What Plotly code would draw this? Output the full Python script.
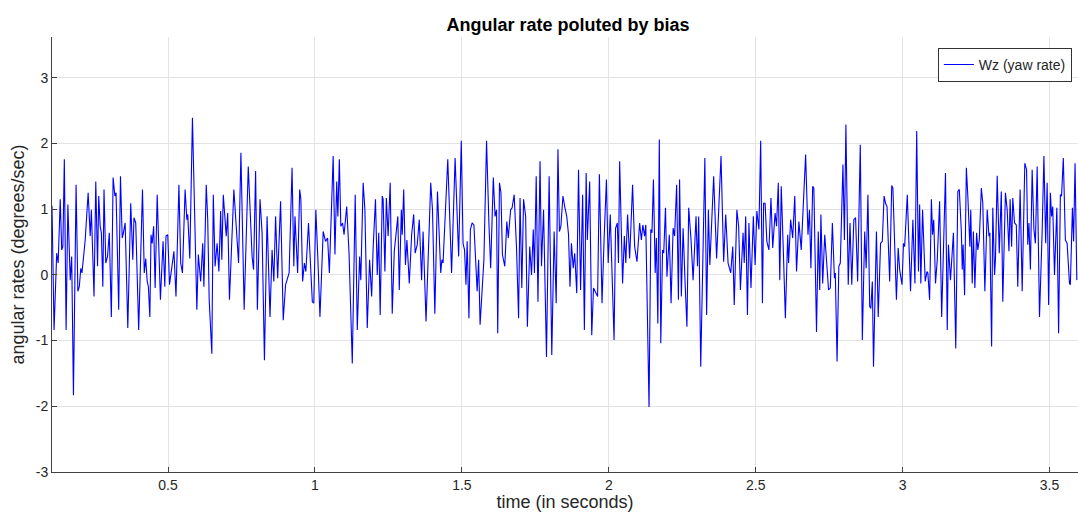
import plotly.graph_objects as go

title_text = "Angular rate poluted by bias"
x_label = "time (in seconds)"
y_label = "angular rates (degrees/sec)"
series_name = "Wz (yaw rate)"

time_s = [
    0.105, 0.112, 0.121, 0.126, 0.133, 0.138, 0.142, 0.147, 0.153, 0.159, 0.167, 0.172, 0.178, 0.187, 0.193, 0.198,
    0.203, 0.207, 0.218, 0.228, 0.235, 0.239, 0.248, 0.254, 0.260, 0.264, 0.269, 0.273, 0.278, 0.282, 0.288, 0.294,
    0.300, 0.307, 0.313, 0.319, 0.323, 0.332, 0.338, 0.344, 0.348, 0.354, 0.363, 0.373, 0.380, 0.384, 0.390, 0.400,
    0.413, 0.419, 0.424, 0.429, 0.433, 0.438, 0.442, 0.446, 0.451, 0.456, 0.463, 0.467, 0.474, 0.483, 0.489, 0.493,
    0.499, 0.505, 0.512, 0.520, 0.527, 0.537, 0.543, 0.549, 0.558, 0.564, 0.567, 0.574, 0.583, 0.598, 0.603, 0.611,
    0.618, 0.622, 0.630, 0.635, 0.640, 0.649, 0.654, 0.660, 0.667, 0.673, 0.679, 0.683, 0.688, 0.698, 0.703, 0.709,
    0.714, 0.724,
    0.740, 0.748, 0.759, 0.773, 0.786, 0.791, 0.798, 0.804, 0.813, 0.820, 0.828, 0.837, 0.847, 0.854, 0.860, 0.866,
    0.873, 0.883, 0.892, 0.900, 0.912, 0.922, 0.928, 0.932, 0.941, 0.948, 0.952, 0.958, 0.964, 0.969, 0.978, 0.983,
    0.991, 0.996, 1.003, 1.010, 1.017, 1.028, 1.036, 1.043, 1.049,
    1.062, 1.068, 1.074, 1.078, 1.083, 1.088, 1.094, 1.099, 1.108, 1.116, 1.127, 1.137, 1.144, 1.152, 1.156, 1.164,
    1.170, 1.178, 1.186, 1.193, 1.198, 1.206, 1.212, 1.217, 1.222, 1.229, 1.232, 1.238, 1.243, 1.249, 1.256, 1.263,
    1.270, 1.277, 1.282, 1.287, 1.294, 1.297, 1.302, 1.308, 1.313, 1.321, 1.329, 1.336, 1.341, 1.348, 1.355, 1.363,
    1.368,
    1.378, 1.385, 1.394, 1.400, 1.408, 1.417, 1.428, 1.432, 1.436, 1.452, 1.465, 1.477, 1.489, 1.498, 1.504, 1.509,
    1.514, 1.518, 1.524, 1.529, 1.535, 1.541, 1.548, 1.552, 1.557, 1.562, 1.575, 1.584, 1.592, 1.598, 1.607, 1.613,
    1.618, 1.622, 1.628, 1.633, 1.638, 1.646, 1.653, 1.658, 1.666, 1.671, 1.678, 1.686, 1.693,
    1.698, 1.704, 1.710, 1.717, 1.723, 1.731, 1.737, 1.743, 1.747, 1.753, 1.759, 1.766, 1.771, 1.778, 1.788, 1.797,
    1.806, 1.814, 1.821, 1.827, 1.832, 1.837, 1.844, 1.850, 1.857, 1.863, 1.868, 1.873, 1.879, 1.884, 1.891, 1.897,
    1.904, 1.911, 1.917, 1.923, 1.927, 1.935, 1.942, 1.948, 1.955, 1.962, 1.968, 1.977, 1.984, 1.992, 1.998, 2.005,
    2.018,
    2.023, 2.029, 2.033, 2.037, 2.047, 2.053, 2.058, 2.064, 2.071, 2.081, 2.088, 2.096, 2.105, 2.111, 2.116, 2.122,
    2.126, 2.137, 2.143, 2.147, 2.152, 2.158, 2.162, 2.167, 2.172, 2.177, 2.183, 2.187, 2.193, 2.198, 2.206, 2.212,
    2.219, 2.224, 2.231, 2.237, 2.241, 2.247, 2.253, 2.260, 2.266, 2.272, 2.280, 2.287, 2.297, 2.302, 2.306, 2.313,
    2.327, 2.333, 2.339,
    2.344, 2.357, 2.367, 2.382, 2.391, 2.398, 2.406, 2.415, 2.422, 2.427, 2.436, 2.442, 2.448, 2.457, 2.461, 2.466,
    2.472, 2.477, 2.484, 2.492, 2.498, 2.504, 2.511, 2.517, 2.523, 2.527, 2.532, 2.538, 2.545, 2.552, 2.558, 2.566,
    2.571, 2.577, 2.582, 2.587, 2.594, 2.601, 2.609, 2.612, 2.619, 2.626, 2.633, 2.639, 2.647, 2.655,
    2.670, 2.678, 2.683, 2.688, 2.694, 2.698, 2.707, 2.713, 2.718, 2.722, 2.728, 2.735, 2.741, 2.748, 2.754, 2.761,
    2.768, 2.771, 2.777, 2.783, 2.788, 2.797, 2.802, 2.807, 2.815, 2.821, 2.827, 2.834, 2.840, 2.847, 2.856, 2.863,
    2.871, 2.876, 2.882, 2.888, 2.892, 2.897, 2.901, 2.911, 2.917, 2.925, 2.931, 2.937, 2.942, 2.947, 2.956, 2.963,
    2.967, 2.979, 2.985,
    2.990, 2.998, 3.003, 3.007, 3.016, 3.027, 3.035, 3.042, 3.048, 3.054, 3.058, 3.062, 3.068, 3.077, 3.083, 3.086,
    3.092, 3.098, 3.102, 3.106, 3.112, 3.118, 3.126, 3.133, 3.140, 3.146, 3.152, 3.156, 3.163, 3.173, 3.181, 3.188,
    3.193, 3.200, 3.203, 3.206, 3.211, 3.217, 3.222, 3.229, 3.232, 3.237, 3.241, 3.246, 3.252, 3.256, 3.261, 3.268,
    3.273, 3.280, 3.288, 3.294, 3.297, 3.303,
    3.307, 3.313, 3.316, 3.322, 3.329, 3.336, 3.341, 3.350, 3.356, 3.362, 3.366, 3.371, 3.375, 3.381, 3.387, 3.392,
    3.400, 3.407, 3.416, 3.422, 3.426, 3.430, 3.435, 3.441, 3.447, 3.452, 3.458, 3.466, 3.475, 3.481, 3.487, 3.492,
    3.497, 3.503, 3.507, 3.511, 3.517, 3.525, 3.531, 3.537, 3.541, 3.547, 3.554, 3.560, 3.568, 3.571, 3.578, 3.582,
    3.587, 3.593,
]

wz_rate = [
    1.05, -0.84, 0.33, 0.18, 1.15, 0.38, 0.43, 1.76, -0.84, 1.07, -0.08, 0.28, -1.83, 1.37, -0.25, -0.18,
    0.10, 0.03, 0.53, 1.25, 0.59, 0.99, -0.33, 1.42, 0.13, 1.20, 0.74, 0.64, -0.18, 1.30, 0.18, 0.28,
    0.64, -0.64, 1.48, 1.20, 1.25, -0.53, 1.50, 0.56, 0.64, 0.79, -0.81, 1.09, 0.23, 0.87, 0.79, -0.84,
    1.30, 0.03, 0.25, -0.10, -0.18, -0.64, 0.61, 0.48, 0.74, -0.20, 1.22, 0.64, -0.38, 0.51, -0.18, 0.59,
    0.61, -0.15, 0.08, 0.36, -0.33, 1.37, 0.18, 0.03, 1.30, 0.84, 0.92, 0.25, 2.39, -0.53, 0.31, -0.10,
    0.48, -0.18, 1.37, 0.84, -0.38, -1.20, 1.22, 0.13, 0.48, 0.05, 0.97, 0.23, 1.22, 0.59, 0.94, -0.38,
    0.18, 1.30,
    0.18, 1.86, -0.53, 1.65, 0.28, 0.08, 1.58, -0.53, 1.15, 0.64, -1.30, 0.89, -0.64, 0.38, -0.10, 0.89,
    -0.05, 1.12, -0.69, -0.15, 0.03, 1.63, 0.13, 0.89, 0.03, 1.30, 1.15, -0.10, 0.18, 0.05, 0.79, 0.23,
    -0.41, -0.43, 0.99, 0.23, -0.64, 0.66, 0.51, 0.56, 0.03,
    1.81, 0.31, 1.42, 0.89, 1.76, 0.74, 0.79, 0.61, 1.04, 0.33, -1.35, 1.22, -0.84, 0.28, -0.08, 1.40,
    0.99, -0.81, 0.23, -0.33, 0.41, 1.15, 0.00, 0.64, -0.61, 1.20, 1.15, 0.05, 1.17, 0.59, 1.40, -0.59,
    0.36, 0.74, 0.89, -0.23, 0.99, 0.61, 1.30, 0.15, 0.53, -0.13, 0.61, 0.92, 0.33, 0.46, 0.84, -0.08,
    0.66,
    -0.71, 0.23, 1.40, 0.99, -0.59, 1.27, 0.03, 0.23, 0.18, 1.76, 0.03, 1.78, 0.28, 2.04, 0.48, 0.38,
    -0.15, 0.51, -0.66, 0.69, 0.79, 0.76, 0.00, -0.25, 0.23, -0.76, 0.23, 2.04, 0.79, 0.10, 1.48, 0.89,
    0.99, -0.89, 1.40, 1.25, 0.31, 0.13, 0.81, 0.56, 0.99, 1.02, 1.22, 0.41, -0.66,
    1.17, -0.20, 1.15, 0.89, -0.79, 0.43, 0.00, 0.69, 0.03, 1.50, -0.41, 1.73, 0.13, 0.99, -1.25, 1.50,
    -1.22, 0.66, -0.43, 1.91, 0.66, 0.74, 1.20, 1.04, 0.89, 0.61, -0.18, 0.48, 0.10, 0.33, -0.28, 1.60,
    -0.23, 1.22, -0.84, 1.55, 0.53, 1.42, -0.92, -0.20, -0.28, -0.33, 1.53, -0.43, 0.53, 1.45, 0.18, 0.92,
    -0.99,
    0.71, 0.79, 0.18, 1.73, -0.13, 0.59, 0.18, 0.92, 0.25, 1.37, 0.43, 0.20, 0.79, 0.53, 0.76, 0.59,
    0.76, -2.01, 0.69, 0.64, 1.45, 0.03, 0.56, -0.74, 2.06, -1.04, 0.38, 0.33, 1.02, -0.03, 0.61, -0.43,
    0.71, 0.59, 1.37, -0.38, 1.45, -0.33, 0.71, -0.15, -0.79, 1.02, 0.53, -0.08, 0.89, 0.13, 0.89, -1.40,
    1.78, -0.61, 0.99,
    0.15, 1.50, 0.25, 1.81, 0.20, 0.92, 0.18, 0.03, 0.43, -0.46, 0.99, 0.74, -0.23, 0.64, 0.18, 0.89,
    -0.61, 0.79, -0.20, 0.89, 0.15, 0.97, 0.69, 2.04, -0.43, 1.09, 1.09, 0.51, 0.38, 1.17, 0.41, 0.94,
    0.74, 1.40, -0.08, 1.35, 0.38, -0.66, 0.61, 0.18, 0.84, 0.56, 1.20, 0.05, 0.81, 0.38,
    1.83, 0.61, 0.99, 0.10, 1.35, 1.32, -0.87, 0.66, -0.23, 0.92, -0.13, 0.61, 0.23, -0.23, -0.20, 0.79,
    -0.05, 0.03, -1.32, 0.13, 0.18, 1.68, 0.53, 2.29, -0.15, 0.79, -0.15, 0.84, 0.87, -0.10, 1.98, -0.99,
    0.66, 0.10, 1.22, -0.48, -0.51, -0.10, -1.40, 0.66, -0.64, 0.48, 0.51, 1.20, 1.09, 1.04, -0.10, 1.36,
    1.32, -0.38, 0.41,
    0.08, -0.15, 0.48, 0.43, 1.22, -0.25, 0.84, -0.13, 2.19, 0.05, 1.07, -0.13, 0.99, -0.10, 0.05, 0.03,
    -0.38, 1.15, 0.61, 0.84, -0.13, 0.23, 1.12, -0.64, 0.56, 1.55, -0.84, 0.46, -0.08, 0.64, -1.12, 1.27,
    1.30, 0.66, 0.08, 0.46, -0.31, 1.63, 1.20, 0.43, 0.99, -0.13, 0.66, -0.20, 0.64, 0.38, 0.53, 1.32,
    1.09, -0.25, 0.99, 0.59, 0.64, -1.09,
    1.02, 0.00, 0.23, 1.51, 0.33, 1.27, -0.41, 1.25, 0.99, 0.36, 1.15, 0.43, 1.17, 0.79, 0.76, -0.18,
    1.30, -0.25, 1.70, 1.60, 0.46, 0.79, 0.08, 1.60, 0.69, 0.48, 1.65, -0.64, 0.66, 1.81, 0.48, 1.40,
    -0.46, 1.25, 0.89, 1.04, 0.00, 1.02, -0.89, 1.22, 1.20, 1.78, 0.53, 0.48, -0.13, -0.15, 1.02, 0.51,
    1.70, -0.08,
]

x_ticks = [0.5, 1, 1.5, 2, 2.5, 3, 3.5]
x_tick_labels = ["0.5", "1", "1.5", "2", "2.5", "3", "3.5"]
y_ticks = [-3, -2, -1, 0, 1, 2, 3]
y_tick_labels = ["-3", "-2", "-1", "0", "1", "2", "3"]

font_family = "Liberation Sans, Arial, Helvetica, sans-serif"

fig = go.Figure()
fig.add_trace(go.Scatter(
    x=time_s, y=wz_rate, mode="lines", name=series_name,
    line=dict(color="rgb(0,0,255)", width=1.1),
))

fig.update_layout(
    width=1078, height=512,
    margin=dict(l=52, r=0, t=37, b=40),
    paper_bgcolor="white", plot_bgcolor="white",
    font=dict(family=font_family, color="#262626", size=14),
    title=dict(text="<b>" + title_text + "</b>", x=0.527, xanchor="center",
               y=0.951, yanchor="middle", font=dict(size=18, color="black")),
    showlegend=True,
    legend=dict(x=0.994, xanchor="right", y=0.975, yanchor="top",
                bgcolor="white", bordercolor="#333333", borderwidth=1,
                font=dict(size=14, color="#262626"),
                itemwidth=30, tracegroupgap=0),
)

fig.update_xaxes(
    range=[0.105, 3.597], tickvals=x_ticks, ticktext=x_tick_labels,
    showgrid=True, gridcolor="#e3e3e3", gridwidth=1, zeroline=False,
    showline=True, linecolor="#404040", linewidth=1,
    ticks="inside", ticklen=5, tickcolor="#404040",
    tickfont=dict(size=14, color="#262626"),
    title=dict(text=x_label, standoff=0, font=dict(size=18, color="#262626")),
)
fig.update_yaxes(
    range=[-3, 3.62], tickvals=y_ticks, ticktext=y_tick_labels,
    showgrid=True, gridcolor="#e3e3e3", gridwidth=1, zeroline=False,
    showline=True, linecolor="#404040", linewidth=1,
    ticks="inside", ticklen=5, tickcolor="#404040",
    tickfont=dict(size=14, color="#262626"),
    title=dict(text=y_label, standoff=6, font=dict(size=18, color="#262626")),
)

fig.write_html("out.html")
